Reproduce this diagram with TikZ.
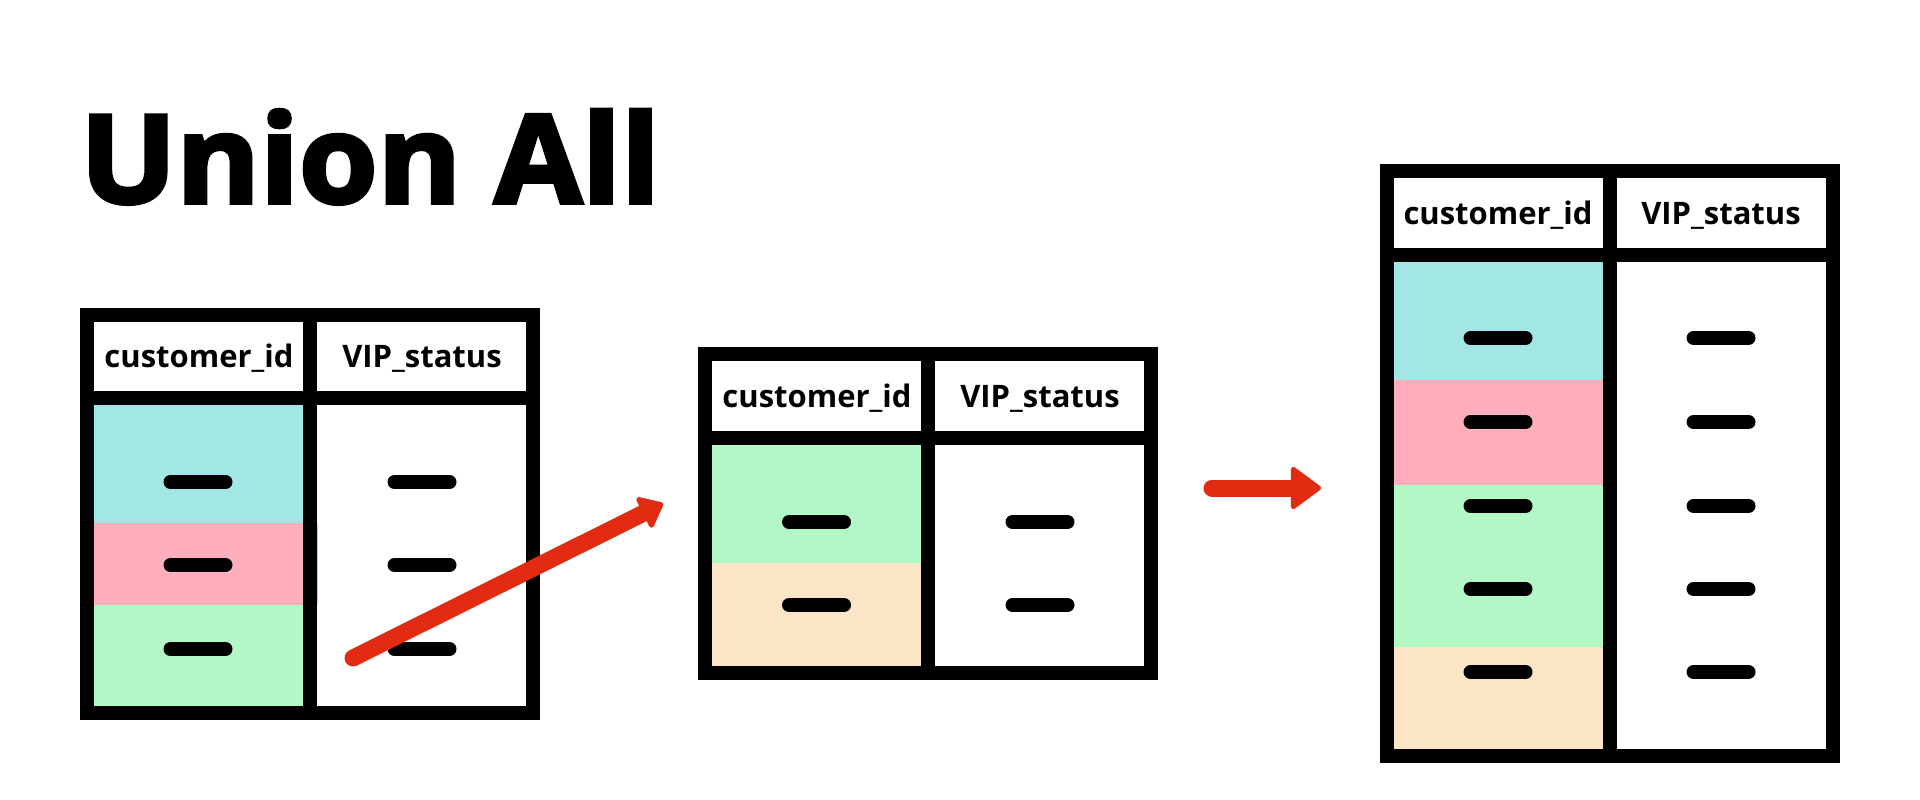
\documentclass[tikz,border=0pt]{standalone}
\usepackage{fontspec}
\setmainfont{Open Sans}
\newfontfamily\titlefont{Open Sans}[BoldFeatures={FakeBold=3}]
\usetikzlibrary{arrows.meta}
\definecolor{cyanc}{RGB}{162,231,228}
\definecolor{pinkc}{RGB}{255,174,188}
\definecolor{greenc}{RGB}{179,247,199}
\definecolor{peachc}{RGB}{251,229,199}
\definecolor{redc}{RGB}{226,44,18}
\tikzset{
  gridline/.style={draw=black, line width=14pt},
  dashmark/.style={draw=black, line width=14pt, line cap=round},
  hdr/.style={font=\fontsize{31}{31}\selectfont\bfseries, anchor=base, inner sep=0pt},
  redarrow/.style={draw=redc, line width=17pt, line cap=round},
}
\begin{document}
\begin{tikzpicture}[x=1pt,y=-1pt]
\useasboundingbox (0,0) rectangle (1920,800);
\fill[white] (0,0) rectangle (1920,800);
% title
\node[font=\fontsize{123}{123}\titlefont\bfseries, anchor=base west, inner sep=0pt, xscale=1.035] (title) at (80,203) {Union All};

% ---------- table 1 ----------
\fill[cyanc] (87,398) rectangle (310,523);
\fill[pinkc] (87,523) rectangle (318,605);
\fill[greenc] (87,605) rectangle (310,713);
\draw[gridline] (87,314.5) rectangle (533,713);
\draw[gridline] (310,314.5) -- (310,713);
\draw[gridline] (87,398) -- (533,398);
\node[hdr] (t1c) at (199,367) {customer\_id};
\node[hdr] (t1v) at (422,367) {VIP\_status};
\foreach \y in {482,565,649}{
  \draw[dashmark] (170.5,\y) -- (225.5,\y);
  \draw[dashmark] (394.5,\y) -- (449.5,\y);
}

% ---------- table 2 ----------
\fill[greenc] (705,438) rectangle (928,563);
\fill[peachc] (705,563) rectangle (928,673);
\draw[gridline] (705,354) rectangle (1151,673);
\draw[gridline] (928,354) -- (928,673);
\draw[gridline] (705,438) -- (1151,438);
\node[hdr] (t2c) at (817,407) {customer\_id};
\node[hdr] (t2v) at (1040,407) {VIP\_status};
\foreach \y in {522,605}{
  \draw[dashmark] (789,\y) -- (844,\y);
  \draw[dashmark] (1012.5,\y) -- (1067.5,\y);
}

% ---------- table 3 ----------
\fill[cyanc] (1386.5,255) rectangle (1610,380);
\fill[pinkc] (1386.5,380) rectangle (1610,485);
\fill[greenc] (1386.5,485) rectangle (1610,647);
\fill[peachc] (1386.5,647) rectangle (1610,755.5);
\draw[gridline] (1386.5,171) rectangle (1833,755.5);
\draw[gridline] (1610,171) -- (1610,755.5);
\draw[gridline] (1386.5,255) -- (1833,255);
\node[hdr] (t3c) at (1498,224) {customer\_id};
\node[hdr] (t3v) at (1721,224) {VIP\_status};
\foreach \y in {338,422,506,589,672}{
  \draw[dashmark] (1470.5,\y) -- (1525.5,\y);
  \draw[dashmark] (1693.5,\y) -- (1748.5,\y);
}

% ---------- arrows ----------
\coordinate (a1s) at (353,658);
\coordinate (a1e) at (663,503.5);
\coordinate (a2s) at (1212,488);
\coordinate (a2e) at (1321,488);
\draw[redarrow, -{Triangle[length=24pt 0 0, width=38pt 0 0, line width=5pt, round, fill=redc]}] (a1s) -- (a1e);
\draw[redarrow, -{Triangle[length=32pt 0 0, width=46pt 0 0, line width=5pt, round, fill=redc]}] (a2s) -- (a2e);
\end{tikzpicture}
\end{document}
